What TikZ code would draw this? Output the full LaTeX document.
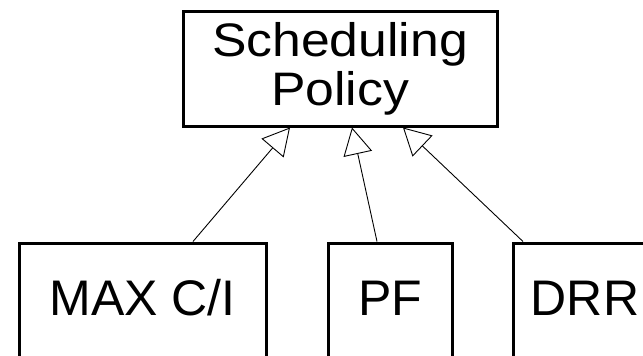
\documentclass[tikz,border=0pt]{standalone}
\usepackage{fontspec}
\setmainfont{Liberation Sans}
\newfontfamily\widesans[FakeStretch=1.1]{Liberation Sans}
\usetikzlibrary{arrows.meta}

\tikzset{
  classbox/.style={draw=black, line width=3pt, fill=white, inner sep=0pt},
  subclass/.style={classbox, anchor=base, text height=72pt, text depth=128pt,
    font=\fontsize{50}{60}\selectfont},
  inherits/.style={line width=0.9pt, -{Triangle[open, length=27pt, width=29pt, line width=0.9pt]}}
}

\begin{document}
\begin{tikzpicture}[x=1pt, y=-1pt]
  \useasboundingbox (0,0) rectangle (643,356);
  \clip (0,0) rectangle (643,356);

  % base class
  \node[classbox, minimum width=314pt, minimum height=115pt, align=center,
        font=\widesans\fontsize{47}{49}\selectfont]
        (policy) at (340,68.5) {Scheduling\\Policy};

  % concrete policies
  \node[subclass, minimum width=247pt] (maxci) at (142.5,315) {MAX C/I};
  \node[subclass, minimum width=124pt] (pf)    at (390,315)   {PF};
  \node[subclass, minimum width=144pt] (drr)   at (585,315)   {DRR};

  % generalisation arrows
  \draw[inherits] ([xshift=50.5pt]maxci.north) -- ([xshift=-50pt]policy.south);
  \draw[inherits] ([xshift=-13pt]pf.north)     -- ([xshift=12pt]policy.south);
  \draw[inherits] ([xshift=-62pt]drr.north)    -- ([xshift=63pt]policy.south);
\end{tikzpicture}
\end{document}
